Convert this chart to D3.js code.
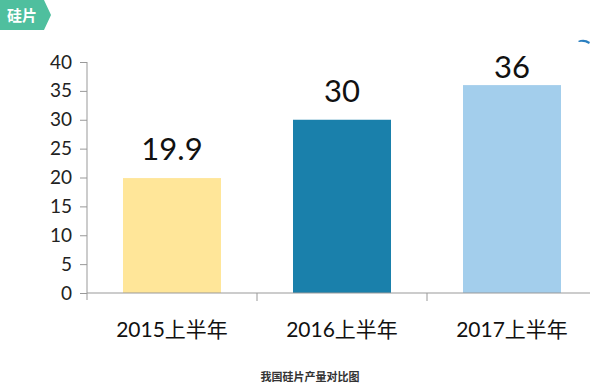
<!DOCTYPE html>
<html><head><meta charset="utf-8">
<script src="https://cdn.jsdelivr.net/npm/d3@7/dist/d3.min.js"></script>
<style>body{margin:0;background:#fff}svg{display:block}</style>
</head><body>
<svg id="c" width="600" height="390"></svg>
<script>
const categories = ["2015上半年","2016上半年","2017上半年"];
const values = [19.9, 30, 36];
const valueLabels = ["19.9","30","36"];
const yTicks = [0,5,10,15,20,25,30,35,40];
const colors = ["#FFE699","#1A80AB","#A3CEEC"];
const badgeText = "硅片";
const caption = "我国硅片产量对比图";

const svg = d3.select("#c");
const x = d3.scaleBand().domain(categories).range([87,597]).paddingInner(0).paddingOuter(0);
const y = d3.scaleLinear().domain([0,40]).range([293,62]);

// badge
svg.append("path").attr("d","M0,0 L44,0 L51,15 L44,30 L0,30 Z").attr("fill","#4FBF9E");
svg.append("text").attr("x",7).attr("y",21).text(badgeText)
  .attr("fill","#fff").attr("font-family","Noto Sans CJK SC").attr("font-weight","bold").attr("font-size",15);
// small top-right mark
svg.append("path").attr("d","M578,41 Q584,38 590,42 L589,44 Q584,41 579,42 Z").attr("fill","#2a7fc0");

// bars
const bw = 98;
svg.selectAll("rect.bar").data(values).join("rect")
  .attr("x",(d,i)=>x(categories[i]) + (x.bandwidth()-bw)/2)
  .attr("width",bw)
  .attr("y",d=>y(d)).attr("height",d=>y(0)-y(d))
  .attr("fill",(d,i)=>colors[i]);

// value labels (kept inside the plot area top)
svg.selectAll("text.val").data(values).join("text")
  .attr("x",(d,i)=>x(categories[i])+x.bandwidth()/2)
  .attr("y",d=>Math.max(y(d)-18, 78))
  .attr("text-anchor","middle").attr("font-family","Lato, 'Open Sans', sans-serif")
  .attr("font-size",31).attr("fill","#111").text((d,i)=>valueLabels[i]);

// y axis
const ya = d3.axisLeft(y).tickValues(yTicks).tickSize(7).tickPadding(8);
const gy = svg.append("g").attr("transform","translate(87,0)").call(ya);
gy.select(".domain").attr("stroke","#999").attr("d","M0,62V300");
gy.selectAll(".tick line").attr("stroke","#999");
gy.selectAll(".tick text").attr("font-family","Lato, 'Open Sans', sans-serif").attr("font-size",19).attr("fill","#222");

// x axis
const xa = d3.axisBottom(x).tickSize(0).tickPadding(0).tickFormat(()=>"");
const gx = svg.append("g").attr("transform","translate(0,293)").call(xa);
gx.select(".domain").attr("stroke","#999").attr("d","M87,0H590");
gx.selectAll(".tick").remove();
svg.selectAll("line.xt").data(categories.slice(1)).join("line")
  .attr("x1",d=>x(d)).attr("x2",d=>x(d)).attr("y1",293).attr("y2",301).attr("stroke","#999");
svg.selectAll("text.cat").data(categories).join("text")
  .attr("x",d=>x(d)+x.bandwidth()/2).attr("y",337)
  .attr("text-anchor","middle").attr("font-family","Lato, 'Noto Sans CJK SC', sans-serif")
  .attr("font-size",21).attr("fill","#111").text(d=>d);

svg.append("text").attr("x",310).attr("y",381).attr("text-anchor","middle")
  .attr("font-family","Noto Sans CJK SC").attr("font-weight","bold").attr("font-size",11)
  .attr("fill","#333").text(caption);
</script>
</body></html>
